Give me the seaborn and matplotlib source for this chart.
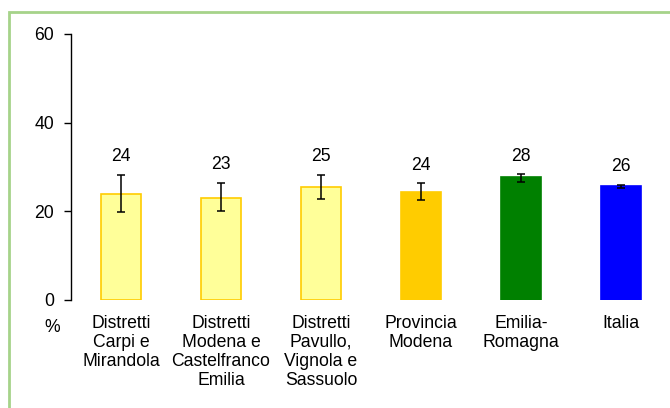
import matplotlib
matplotlib.use("Agg")
import matplotlib.pyplot as plt
import matplotlib.patches as mpatches
import numpy as np
import pandas as pd
import seaborn as sns

# Data
categories = [
    "Distretti\nCarpi e\nMirandola",
    "Distretti\nModena e\nCastelfranco\nEmilia",
    "Distretti\nPavullo,\nVignola e\nSassuolo",
    "Provincia\nModena",
    "Emilia-\nRomagna",
    "Italia",
]
values = [23.8, 23.1, 25.4, 24.3, 27.7, 25.7]
ci_low = [19.9, 20.1, 22.7, 22.5, 26.7, 25.3]
ci_high = [28.2, 26.4, 28.3, 26.3, 28.4, 26.0]
value_labels = ["24", "23", "25", "24", "28", "26"]
bar_colors = ["#FFFF99", "#FFFF99", "#FFFF99", "#FFCC00", "#008000", "#0000FF"]
edge_colors = ["#FFCC00", "#FFCC00", "#FFCC00", "#FFCC00", "#008000", "#0000FF"]

sns.set_style("white")
plt.rcParams["font.family"] = ["Liberation Sans", "DejaVu Sans"]
plt.rcParams["font.size"] = 12.7
plt.rcParams["text.color"] = "black"
plt.rcParams["xtick.color"] = "black"
plt.rcParams["ytick.color"] = "black"

FS = 12.7
W, H = 670, 408
fig = plt.figure(figsize=(W / 100, H / 100), dpi=100)
ax = fig.add_axes([71 / W, (H - 300) / H, (W - 71) / W, 266 / H])

df = pd.DataFrame({"cat": categories, "val": values})
sns.barplot(data=df, x="cat", y="val", hue="cat", palette=bar_colors,
            legend=False, width=0.4, ax=ax, saturation=1)
for patch, ec in zip(ax.patches, edge_colors):
    patch.set_edgecolor(ec)
    patch.set_linewidth(1.2)

xs = np.arange(len(categories))
vals = np.array(values)
yerr = np.vstack([vals - np.array(ci_low), np.array(ci_high) - vals])
ax.errorbar(xs, vals, yerr=yerr, fmt="none", ecolor="black",
            elinewidth=1.1, capsize=3, capthick=1.1)

for x, top, lab in zip(xs, ci_high, value_labels):
    ax.annotate(lab, (x, top), xytext=(0, 13), textcoords="offset points",
                ha="center", va="center", fontsize=FS, color="black")

ax.set_ylim(0, 60)
ax.set_xlim(-0.5, 5.49)
ax.set_yticks([0, 20, 40, 60])
ax.set_xlabel("")
ax.set_ylabel("")
ax.tick_params(axis="y", left=True, length=5, width=1, color="black",
               labelsize=FS, labelcolor="black", pad=7)
ax.tick_params(axis="x", bottom=False, labelsize=FS, labelcolor="black", pad=7)
for lbl in ax.get_xticklabels():
    lbl.set_linespacing(1.17)
sns.despine(ax=ax, top=True, right=True, bottom=True)
ax.spines["left"].set_color("black")
ax.spines["left"].set_linewidth(1)

fig.text(52 / W, 1 - 327 / H, "%", ha="center", va="center", fontsize=FS,
         color="black")

# light green frame (right/bottom outside the image)
frame = mpatches.Rectangle((9 / W, -0.1), 1.2, 1 - 12 / H + 0.1,
                           transform=fig.transFigure, fill=False,
                           edgecolor="#A6D38A", linewidth=2)
fig.patches.append(frame)

fig.savefig("out.png", dpi=100)
